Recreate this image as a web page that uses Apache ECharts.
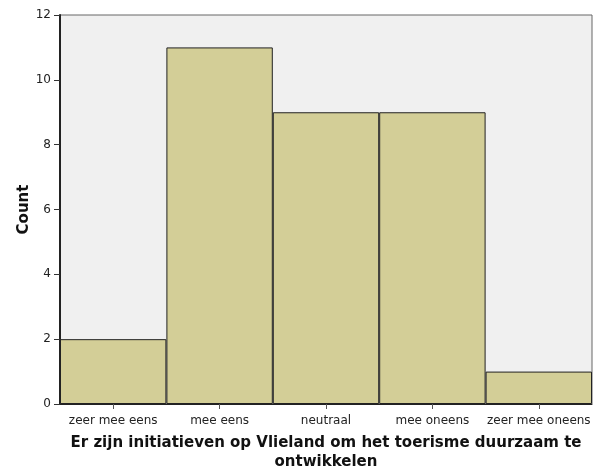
<!DOCTYPE html>
<html><head><meta charset="utf-8">
<script src="https://cdn.jsdelivr.net/npm/echarts@6/dist/echarts.min.js"></script>
<style>html,body{margin:0;padding:0;background:#fff}#c{width:598px;height:470px}</style>
</head><body><div id="c"></div>
<script>
const categories = ['zeer mee eens', 'mee eens', 'neutraal', 'mee oneens', 'zeer mee oneens'];
const counts = [2, 11, 9, 9, 1];
const yTicks = [0, 2, 4, 6, 8, 10, 12];
const xTitle = 'Er zijn initiatieven op Vlieland om het toerisme duurzaam te\nontwikkelen';
const yTitle = 'Count';

const FONT = 'DejaVu Sans';
const chart = echarts.init(document.getElementById('c'));
chart.setOption({
  animation: false,
  grid: { left: 60, right: 6, top: 15, bottom: 66, outerBoundsMode: 'none', containLabel: false,
    show: true, backgroundColor: '#f0f0f0', borderColor: '#666', borderWidth: 1 },
  xAxis: {
    type: 'category', data: categories,
    axisLine: { show: true, lineStyle: { color: '#222', width: 1 } },
    axisTick: { show: true, alignWithLabel: true, length: 5, lineStyle: { color: '#555' } },
    axisLabel: { color: '#222', fontFamily: FONT, fontSize: 12, margin: 11, interval: 0 },
    name: xTitle, nameLocation: 'middle', nameGap: 30, nameMoveOverlap: false,
    nameTextStyle: { fontFamily: FONT, fontSize: 15, fontWeight: 'bold', color: '#111', lineHeight: 19 }
  },
  yAxis: {
    type: 'value', min: 0, max: 12, interval: 2,
    axisLine: { show: true, lineStyle: { color: '#222', width: 2 } },
    axisTick: { show: true, length: 6, lineStyle: { color: '#333' } },
    splitLine: { show: false },
    axisLabel: { color: '#222', fontFamily: FONT, fontSize: 12, margin: 9,
      formatter: v => yTicks.includes(v) ? String(v) : '' },
    name: yTitle, nameLocation: 'middle', nameGap: 28, nameRotate: 90, nameMoveOverlap: false,
    nameTextStyle: { fontFamily: FONT, fontSize: 15, fontWeight: 'bold', color: '#111' }
  },
  series: [{
    type: 'bar', data: counts, barCategoryGap: 0, barGap: 0,
    itemStyle: { color: '#d3ce97', borderColor: '#222', borderWidth: 1 }
  }]
});
</script></body></html>
